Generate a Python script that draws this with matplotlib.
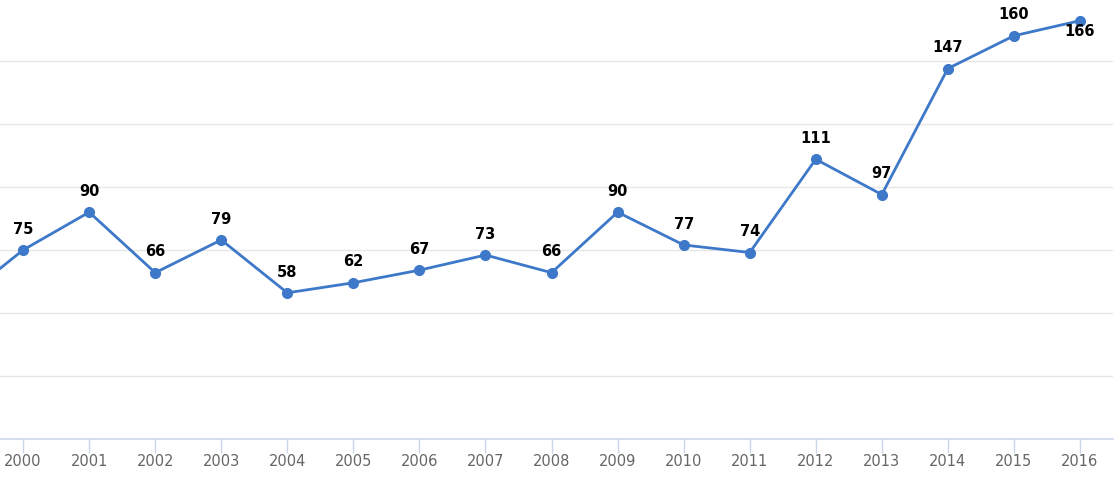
import matplotlib
matplotlib.use("Agg")
import matplotlib.pyplot as plt

years = [1999, 2000, 2001, 2002, 2003, 2004, 2005, 2006, 2007, 2008,
         2009, 2010, 2011, 2012, 2013, 2014, 2015, 2016]
values = [54, 75, 90, 66, 79, 58, 62, 67, 73, 66,
          90, 77, 74, 111, 97, 147, 160, 166]
tick_years = list(range(2000, 2017))

W, H = 1116, 479
fig = plt.figure(figsize=(W / 100, H / 100), dpi=100)
ax = fig.add_axes([0, 1 - 439 / H, 1113 / W, 439 / H])

line_color = "#3d78c9"
ax.plot(years, values, color=line_color, lw=2, marker="o", ms=7,
        markeredgecolor=line_color, markerfacecolor=line_color, zorder=3,
        clip_on=True)

ax.set_xlim(1999.65, 2016.5)
ax.set_ylim(0, 174.2)
ax.set_yticks([25, 50, 75, 100, 125, 150])
ax.yaxis.grid(True, color="#e6e6e6", lw=1)
ax.set_axisbelow(True)
ax.tick_params(axis="y", length=0, labelleft=False)
ax.set_xticks(tick_years)
ax.set_xticklabels([str(y) for y in tick_years])
ax.tick_params(axis="x", length=10, width=1, color="#ccd6eb",
               labelcolor="#666666", labelsize=10.5, pad=1)
for s in ["left", "right", "top"]:
    ax.spines[s].set_visible(False)
ax.spines["bottom"].set_color("#ccd6eb")
ax.spines["bottom"].set_linewidth(1.2)

for x, v in zip(years, values):
    if x < 2000:
        continue
    if x == 2016:
        ax.annotate(str(v), (x, v), xytext=(0, -7.5), textcoords="offset points",
                    ha="center", va="center", fontsize=10.5, fontweight="bold",
                    color="#000000", zorder=4)
    else:
        ax.annotate(str(v), (x, v), xytext=(0, 15), textcoords="offset points",
                    ha="center", va="center", fontsize=10.5, fontweight="bold",
                    color="#000000", zorder=4)

fig.savefig("out.png", dpi=100)
